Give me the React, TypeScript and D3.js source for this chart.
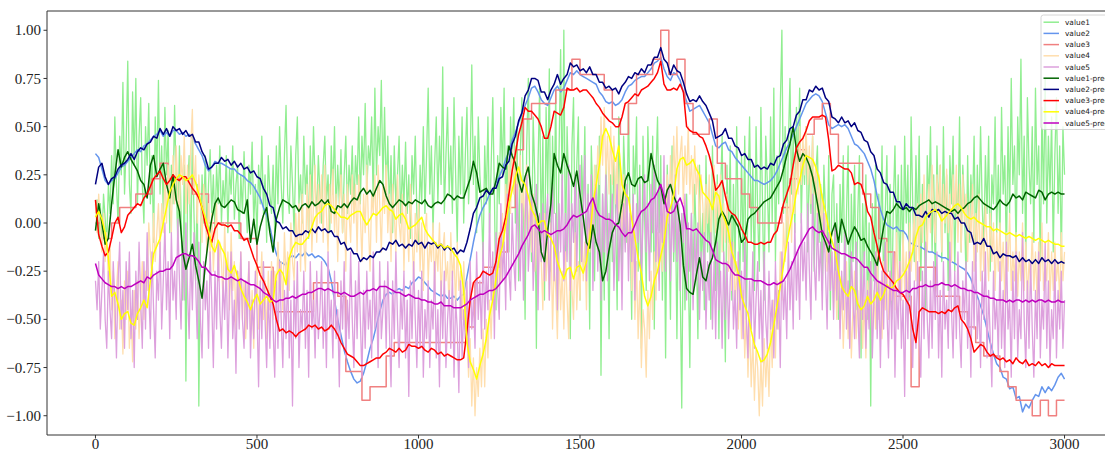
import React from "react";
import * as d3 from "d3";

// ---- data ----
const STEP_VALUE3 = 25; // x spacing of the stepped series
const MID_STEP = 10; // x spacing of the prediction series and value2
const FINE_STEP = 5; // x spacing of the noisy series

const xTicks = [0, 500, 1000, 1500, 2000, 2500, 3000];
const yTicks = [-1.0, -0.75, -0.5, -0.25, 0.0, 0.25, 0.5, 0.75, 1.0];

const value1 = [
  0.05, 0.12, -0.08, 0.1, -0.12, 0.15, 0.02, -0.1, 0.2, 0.05,
  0.35, 0.1, 0.55, 0.2, 0.0, 0.45, 0.25, 0.73, 0.15, 0.4,
  0.84, 0.2, 0.05, 0.68, 0.3, 0.75, 0.1, 0.45, 0.65, 0.2,
  0.0, 0.5, 0.3, 0.62, 0.1, 0.35, -0.1, 0.55, 0.25, 0.74,
  0.15, 0.4, 0.05, 0.6, 0.25, 0.48, -0.05, 0.3, 0.1, 0.61,
  0.2, -0.1, 0.4, 0.05, -0.4, 0.3, -0.82, 0.15, 0.35, -0.2,
  0.45, 0.05, -0.3, 0.2, -0.95, -0.15, 0.25, 0.0, 0.35, -0.1,
  0.2, 0.38, 0.05, 0.25, -0.05, 0.3, 0.1, 0.4, 0.0, 0.22,
  0.08, 0.35, -0.05, 0.28, 0.15, 0.4, 0.02, 0.2, 0.3, -0.08,
  0.25, 0.05, 0.37, 0.12, -0.05, 0.3, 0.15, 0.42, 0.0, 0.2,
  -0.08, 0.3, 0.1, 0.45, 0.05, 0.25, -0.1, 0.35, 0.15, 0.05,
  0.3, -0.05, 0.4, 0.1, 0.5, 0.2, 0.0, 0.35, 0.61, 0.15,
  0.05, 0.4, 0.2, -0.05, 0.35, 0.55, 0.1, 0.25, 0.0, 0.45,
  0.15, 0.3, -0.08, 0.4, 0.1, 0.5, 0.2, 0.05, 0.35, 0.15,
  0.0, 0.3, 0.45, 0.1, 0.25, -0.05, 0.4, 0.15, 0.5, 0.05,
  0.3, 0.1, 0.38, -0.05, 0.25, 0.45, 0.05, 0.3, 0.15, 0.4,
  0.05, 0.35, 0.2, 0.55, 0.1, 0.45, 0.25, 0.62, 0.15, 0.4,
  0.3, 0.55, 0.1, 0.7, 0.25, 0.5, 0.35, 0.74, 0.2, 0.6,
  0.15, 0.45, 0.05, 0.35, -0.05, 0.4, 0.1, 0.25, 0.45, 0.0,
  0.3, 0.1, 0.42, 0.05, 0.25, -0.08, 0.35, 0.15, 0.45, 0.05,
  -0.1, 0.3, 0.1, 0.5, 0.05, 0.35, 0.7, 0.15, 0.4, -0.05,
  0.3, 0.55, 0.1, 0.45, 0.2, 0.81, 0.05, 0.35, 0.6, 0.15,
  0.4, 0.05, 0.65, 0.25, -0.1, 0.45, 0.15, 0.55, 0.0, 0.35,
  0.6, 0.1, 0.3, 0.82, 0.2, 0.45, -0.05, 0.55, 0.25, 0.1,
  -0.2, 0.4, 0.1, 0.55, -0.05, 0.3, 0.65, 0.15, -0.45, 0.35,
  0.1, 0.6, 0.25, 0.7, 0.05, 0.4, -0.15, 0.55, 0.3, 0.65,
  0.0, 0.5, -0.3, 0.35, 0.65, 0.1, -0.5, 0.4, 0.75, 0.15,
  -0.2, 0.55, 0.25, -0.65, 0.3, 0.7, -0.1, 0.45, -0.4, 0.6,
  0.15, 0.8, -0.25, 0.45, 0.05, 0.7, -0.5, 0.35, 0.9, 0.1,
  1.0, -0.2, 0.5, 0.15, -0.6, 0.4, 0.65, -0.1, 0.3, 0.55,
  -0.4, 0.35, 0.05, 0.5, -0.25, 0.2, -0.55, 0.4, 0.1, -0.3,
  0.3, -0.1, 0.45, -0.79, 0.15, -0.4, 0.35, 0.0, -0.6, 0.25,
  -0.2, 0.4, 0.05, -0.45, 0.55, 0.1, -0.3, 0.45, 0.2, -0.1,
  0.62, 0.0, -0.5, 0.4, 0.15, 0.55, -0.25, 0.3, -0.65, 0.45,
  0.05, -0.35, 0.5, 0.2, -0.15, 0.45, -0.55, 0.25, 0.55, -0.05,
  0.35, -0.4, 0.2, -0.7, 0.3, 0.0, -0.5, 0.4, -0.2, 0.15,
  -0.6, 0.1, -0.3, -0.96, 0.05, -0.45, 0.15, -0.2, -0.75, 0.05,
  -0.35, 0.2, -0.1, -0.6, 0.3, -0.25, 0.05, -0.45, 0.35, -0.15,
  0.1, -0.5, 0.4, -0.05, -0.35, 0.25, -0.6, 0.15, 0.45, -0.2,
  -0.72, 0.3, -0.1, 0.4, -0.4, 0.2, -0.25, 0.5, 0.0, -0.3,
  0.35, -0.2, 0.45, -0.5, 0.15, 0.55, -0.1, 0.3, -0.35, 0.5,
  0.05, -0.25, 0.6, 0.1, -0.4, 0.45, 0.2, -0.15, 0.55, 0.0,
  0.7, -0.2, 0.35, 0.1, 0.6, 1.0, 0.05, 0.5, -0.1, 0.4,
  0.75, 0.15, 0.45, -0.05, 0.6, 0.25, 0.7, 0.0, 0.4, 0.2,
  0.5, -0.15, 0.35, 0.05, 0.45, -0.25, 0.25, 0.4, -0.1, 0.2,
  -0.35, 0.3, 0.05, -0.2, 0.35, -0.45, 0.15, 0.25, -0.3, 0.1,
  -0.5, 0.2, -0.1, 0.35, -0.35, 0.05, 0.4, -0.6, 0.15, -0.2,
  0.3, -0.45, 0.05, 0.35, -0.7, 0.1, -0.25, 0.25, -0.5, 0.0,
  -0.95, 0.1, -0.3, 0.3, -0.55, 0.15, -0.15, 0.4, -0.4, 0.05,
  0.35, -0.25, 0.2, -0.5, 0.1, 0.4, -0.15, 0.25, -0.35, 0.3,
  -0.25, 0.45, 0.0, 0.3, -0.4, 0.55, 0.1, -0.2, 0.35, -0.05,
  0.45, -0.3, 0.2, 0.05, -0.45, 0.35, 0.1, 0.5, -0.15, 0.25,
  -0.3, 0.4, 0.05, 0.3, -0.2, 0.5, -0.05, 0.25, -0.35, 0.35,
  0.1, 0.45, -0.25, 0.2, 0.0, 0.55, -0.15, 0.3, 0.1, -0.3,
  0.35, -0.1, 0.25, 0.05, 0.45, -0.2, 0.3, 0.0, 0.5, 0.1,
  -0.15, 0.35, 0.05, 0.45, -0.25, 0.25, 0.1, 0.55, -0.05, 0.3,
  -0.1, 0.6, 0.15, 0.35, -0.2, 0.5, 0.05, 0.75, 0.2, 0.4,
  -0.15, 0.55, 0.25, 0.85, 0.05, 0.45, -0.2, 0.65, 0.3, 0.1,
  0.5, -0.1, 0.7, 0.2, 0.4, -0.25, 0.6, 0.1, 0.75, 0.0,
  0.45, 0.15, 0.55, -0.15, 0.35, 0.65, 0.05, 0.4, -0.2, 0.5,
  0.25,
];

const value2 = [
  0.36, 0.34, 0.28, 0.22, 0.2, 0.22, 0.23, 0.26, 0.29, 0.3,
  0.32, 0.34, 0.36, 0.38, 0.37, 0.4, 0.41, 0.43, 0.45, 0.46,
  0.48, 0.45, 0.47, 0.45, 0.48, 0.48, 0.46, 0.47, 0.45, 0.46,
  0.44, 0.41, 0.38, 0.35, 0.3, 0.27, 0.29, 0.32, 0.31, 0.31,
  0.3, 0.29, 0.28, 0.28, 0.26, 0.25, 0.24, 0.22, 0.21, 0.19,
  0.16, 0.13, 0.08, 0.04, -0.02, -0.1, -0.16, -0.2, -0.21, -0.22,
  -0.18, -0.17, -0.18, -0.16, -0.17, -0.15, -0.17, -0.16, -0.18, -0.17,
  -0.18, -0.2, -0.23, -0.3, -0.4, -0.5, -0.58, -0.66, -0.72, -0.77,
  -0.81, -0.83, -0.82, -0.78, -0.72, -0.65, -0.6, -0.53, -0.46, -0.4,
  -0.37, -0.36, -0.37, -0.35, -0.34, -0.35, -0.33, -0.34, -0.31, -0.3,
  -0.28, -0.29, -0.31, -0.33, -0.35, -0.36, -0.37, -0.38, -0.37, -0.39,
  -0.39, -0.38, -0.4, -0.38, -0.37, -0.28, -0.19, -0.1, -0.02, 0.04,
  0.08, 0.11, 0.15, 0.17, 0.21, 0.24, 0.28, 0.33, 0.37, 0.43,
  0.47, 0.52, 0.57, 0.61, 0.65, 0.7, 0.71, 0.68, 0.64, 0.62,
  0.61, 0.65, 0.69, 0.71, 0.68, 0.7, 0.74, 0.78, 0.77, 0.79,
  0.77, 0.76, 0.75, 0.74, 0.73, 0.72, 0.68, 0.66, 0.63, 0.62,
  0.63, 0.61, 0.62, 0.64, 0.68, 0.71, 0.72, 0.74, 0.75, 0.76,
  0.76, 0.78, 0.8, 0.83, 0.84, 0.86, 0.8, 0.76, 0.74, 0.78,
  0.77, 0.74, 0.68, 0.63, 0.58, 0.59, 0.6, 0.61, 0.58, 0.55,
  0.52, 0.46, 0.4, 0.39, 0.41, 0.42, 0.38, 0.37, 0.34, 0.32,
  0.3, 0.28, 0.26, 0.24, 0.22, 0.22, 0.21, 0.2, 0.21, 0.22,
  0.24, 0.27, 0.31, 0.35, 0.39, 0.42, 0.46, 0.5, 0.54, 0.58,
  0.62, 0.64, 0.66, 0.67, 0.66, 0.63, 0.57, 0.51, 0.49, 0.5,
  0.51, 0.5, 0.51, 0.49, 0.45, 0.41, 0.4, 0.38, 0.36, 0.32,
  0.28, 0.22, 0.14, 0.07, 0.02, -0.01, -0.02, -0.03, -0.02, -0.04,
  -0.04, -0.06, -0.1, -0.11, -0.12, -0.12, -0.13, -0.14, -0.15, -0.15,
  -0.16, -0.17, -0.18, -0.18, -0.19, -0.2, -0.21, -0.22, -0.23, -0.24,
  -0.26, -0.29, -0.34, -0.38, -0.43, -0.48, -0.55, -0.62, -0.68, -0.73,
  -0.75, -0.8, -0.81, -0.86, -0.85, -0.91, -0.9, -0.98, -0.94, -0.96,
  -0.92, -0.89, -0.9, -0.85, -0.88, -0.85, -0.87, -0.84, -0.8, -0.78,
  -0.81,
];

const value3 = [
  0.0, -0.08, 0.0, 0.08, 0.08, 0.15, 0.15, 0.23, 0.31, 0.23,
  0.23, 0.23, 0.15, 0.15, 0.0, 0.0, 0.0, 0.0, -0.08, -0.08,
  -0.23, -0.23, -0.46, -0.46, -0.46, -0.46, -0.46, -0.31, -0.31, -0.31,
  -0.38, -0.77, -0.77, -0.92, -0.85, -0.85, -0.69, -0.62, -0.62, -0.62,
  -0.62, -0.62, -0.62, -0.62, -0.62, -0.62, -0.54, -0.31, -0.23, -0.23,
  -0.15, 0.08, 0.38, 0.54, 0.62, 0.62, 0.62, 0.69, 0.69, 0.85,
  0.77, 0.77, 0.77, 0.69, 0.54, 0.46, 0.62, 0.77, 0.77, 0.85,
  1.0, 0.77, 0.85, 0.62, 0.46, 0.46, 0.54, 0.31, 0.23, 0.23,
  0.15, 0.08, 0.0, 0.0, 0.0, 0.08, 0.23, 0.38, 0.46, 0.54,
  0.62, 0.46, 0.31, 0.31, 0.31, 0.15, 0.08, -0.08, -0.15, -0.38,
  -0.38, -0.85, -0.23, -0.23, -0.38, -0.38, -0.38, -0.46, -0.54, -0.62,
  -0.69, -0.69, -0.77, -0.85, -0.92, -0.92, -1.0, -0.92, -1.0, -0.92,
  -0.92,
];

const value4 = [
  0.1, -0.05, 0.15, 0.0, -0.15, 0.05, -0.2, -0.05, -0.3, -0.1,
  -0.45, -0.25, -0.6, -0.35, -0.2, -0.55, -0.4, -0.68, -0.3, -0.5,
  -0.25, -0.65, -0.45, -0.72, -0.35, -0.55, -0.3, -0.6, -0.4, -0.2,
  -0.5, -0.25, -0.35, 0.0, -0.15, -0.3, 0.05, -0.2, -0.05, 0.1,
  -0.15, 0.1, -0.05, 0.25, 0.0, 0.3, 0.15, -0.05, 0.35, 0.1,
  0.4, 0.15, 0.05, 0.35, 0.2, 0.45, 0.05, 0.3, 0.1, 0.4,
  0.59, 0.15, 0.35, 0.0, 0.25, 0.1, -0.1, 0.2, 0.05, -0.15,
  0.1, -0.2, 0.05, -0.25, -0.05, 0.1, -0.3, -0.1, -0.2, -0.4,
  0.0, -0.3, -0.15, -0.45, -0.05, -0.35, -0.2, -0.55, -0.25, -0.4,
  -0.15, -0.5, -0.3, -0.6, -0.4, -0.2, -0.55, -0.35, -0.65, -0.3,
  -0.2, -0.55, -0.35, -0.15, -0.5, -0.3, -0.6, -0.25, -0.45, -0.2,
  -0.5, -0.25, -0.4, -0.1, -0.35, -0.2, -0.45, -0.05, -0.3, -0.15,
  -0.35, 0.0, -0.2, -0.3, 0.05, -0.15, 0.1, -0.25, 0.15, -0.1,
  -0.25, 0.2, -0.05, 0.25, -0.15, 0.1, 0.3, -0.1, 0.2, 0.0,
  0.25, -0.1, 0.3, 0.05, -0.15, 0.2, 0.0, 0.28, -0.05, 0.15,
  -0.2, 0.1, 0.25, -0.05, 0.15, -0.25, 0.2, 0.05, -0.1, 0.25,
  0.0, 0.2, -0.15, 0.25, 0.05, -0.2, 0.15, -0.05, 0.3, 0.0,
  -0.25, 0.15, 0.05, 0.25, -0.1, 0.3, 0.1, -0.15, 0.2, 0.05,
  0.3, -0.05, 0.15, -0.2, 0.2, 0.05, -0.15, 0.25, 0.0, -0.1,
  0.15, -0.25, 0.1, 0.0, -0.2, 0.2, -0.05, -0.3, 0.05, -0.15,
  0.1, -0.25, 0.0, -0.35, -0.05, 0.05, -0.3, -0.1, -0.2, 0.0,
  -0.35, -0.1, -0.25, 0.0, -0.4, -0.15, -0.05, -0.3, -0.2, -0.45,
  -0.05, -0.3, -0.15, -0.45, -0.1, -0.35, -0.25, -0.5, -0.2, -0.4,
  -0.55, -0.8, -0.6, -0.95, -0.7, -1.0, -0.75, -0.9, -0.65, -0.85,
  -0.55, -0.85, -0.5, -0.7, -0.4, -0.6, -0.3, -0.45, -0.15, -0.35,
  -0.05, -0.3, 0.05, -0.15, 0.2, -0.05, 0.3, 0.05, 0.38, 0.15,
  0.4, 0.1, 0.25, 0.35, 0.0, 0.2, -0.1, 0.3, -0.05, 0.1,
  -0.15, 0.15, -0.25, 0.05, -0.35, 0.0, -0.2, -0.45, 0.05, -0.3,
  -0.1, -0.4, 0.0, -0.55, -0.2, -0.35, -0.6, -0.15, -0.45, -0.25,
  -0.55, -0.15, -0.4, -0.6, -0.1, -0.35, -0.5, -0.05, -0.45, -0.2,
  -0.4, 0.0, -0.3, -0.1, -0.45, 0.05, -0.15, 0.15, -0.05, 0.3,
  0.1, 0.4, 0.2, 0.55, 0.3, 0.6, 0.25, 0.45, 0.15, 0.5,
  0.2, 0.45, 0.1, 0.35, 0.05, 0.3, -0.05, 0.25, -0.1, 0.15,
  -0.15, 0.1, -0.35, -0.05, -0.5, -0.2, -0.6, -0.3, -0.75, -0.45,
  -0.55, -0.8, -0.35, -0.6, -0.25, -0.5, -0.15, -0.4, -0.05, -0.3,
  0.0, -0.25, 0.1, -0.1, 0.25, 0.0, 0.35, 0.1, 0.45, 0.2,
  0.5, 0.15, 0.35, 0.45, 0.1, 0.4, 0.2, 0.5, 0.15, 0.35,
  0.05, 0.4, 0.15, 0.3, -0.05, 0.25, 0.1, -0.1, 0.2, 0.0,
  0.25, -0.1, 0.15, 0.3, -0.05, 0.2, 0.0, 0.25, -0.15, 0.1,
  -0.1, 0.15, -0.25, 0.0, -0.35, -0.1, -0.45, -0.2, -0.55, -0.3,
  -0.6, -0.35, -0.7, -0.45, -0.8, -0.5, -0.85, -0.6, -0.92, -0.65,
  -0.75, -1.0, -0.7, -0.95, -0.6, -0.85, -0.65, -0.9, -0.5, -0.75,
  -0.4, -0.7, -0.3, -0.55, -0.15, -0.4, 0.0, -0.2, 0.1, -0.05,
  0.2, -0.1, 0.3, 0.05, 0.4, 0.15, 0.5, 0.2, 0.45, 0.25,
  0.5, 0.2, 0.4, 0.1, 0.45, 0.15, 0.3, 0.0, 0.25, -0.05,
  0.15, -0.15, 0.05, -0.25, -0.05, -0.35, -0.15, -0.45, -0.25, -0.5,
  -0.2, -0.55, -0.3, -0.65, -0.4, -0.2, -0.6, -0.35, -0.7, -0.45,
  -0.25, -0.6, -0.35, -0.55, -0.2, -0.65, -0.4, -0.7, -0.3, -0.5,
  -0.2, -0.6, -0.35, -0.55, -0.15, -0.5, -0.3, -0.6, -0.2, -0.45,
  -0.1, -0.5, -0.25, -0.4, -0.15, -0.45, -0.05, -0.35, -0.2, -0.4,
  -0.05, -0.35, -0.15, -0.45, 0.0, -0.25, -0.1, 0.05, -0.3, 0.1,
  -0.2, 0.15, -0.1, 0.25, 0.0, -0.15, 0.2, -0.05, 0.3, 0.05,
  -0.1, 0.25, 0.05, 0.3, -0.15, 0.2, 0.0, 0.28, -0.05, 0.15,
  -0.2, 0.25, 0.05, 0.3, -0.1, 0.2, -0.15, 0.25, 0.0, 0.15,
  -0.2, 0.1, -0.1, 0.2, -0.25, 0.05, -0.15, 0.15, -0.3, 0.0,
  -0.25, 0.1, -0.1, -0.3, 0.05, -0.2, 0.0, -0.35, -0.05, -0.25,
  0.0, -0.3, -0.1, -0.4, -0.05, -0.25, 0.05, -0.35, -0.15, -0.3,
  -0.05, -0.38, -0.15, -0.3, 0.0, -0.35, -0.1, -0.4, -0.2, -0.3,
  -0.05, -0.35, -0.15, -0.4, -0.1, -0.3, 0.0, -0.35, -0.2, -0.3,
  -0.05, -0.4, -0.15, -0.35, -0.1, -0.3, -0.2, -0.4, -0.05, -0.3,
  -0.15,
];

const value5 = [
  -0.3, -0.45, -0.2, -0.55, -0.35, -0.15, -0.5, -0.65, -0.25, -0.45,
  -0.6, -0.2, -0.4, -0.7, -0.3, -0.1, -0.55, -0.35, -0.65, -0.2,
  -0.45, -0.15, -0.6, -0.35, -0.75, -0.25, -0.5, -0.1, -0.4, -0.65,
  -0.2, -0.55, -0.05, -0.35, -0.6, -0.15, -0.45, -0.7, -0.25, -0.4,
  -0.1, -0.55, -0.3, 0.0, -0.45, -0.2, -0.6, -0.05, -0.4, -0.25,
  -0.5, 0.02, -0.3, -0.55, -0.1, -0.4, 0.0, -0.35, -0.6, -0.15,
  -0.45, -0.05, -0.3, -0.6, -0.1, -0.5, -0.7, -0.2, -0.45, -0.3,
  -0.65, -0.15, -0.4, -0.75, -0.25, -0.55, -0.1, -0.45, -0.65, -0.3,
  -0.5, -0.2, -0.7, -0.35, -0.15, -0.6, -0.4, -0.78, -0.25, -0.55,
  -0.15, -0.5, -0.65, -0.3, -0.55, -0.2, -0.7, -0.4, -0.6, -0.25,
  -0.45, -0.85, -0.3, -0.6, -0.2, -0.5, -0.75, -0.35, -0.65, -0.25,
  -0.55, -0.8, -0.3, -0.65, -0.2, -0.5, -0.75, -0.35, -0.6, -0.25,
  -0.7, -0.4, -0.95, -0.3, -0.6, -0.2, -0.75, -0.45, -0.55, -0.25,
  -0.65, -0.35, -0.8, -0.2, -0.55, -0.4, -0.7, -0.25, -0.6, -0.45,
  -0.2, -0.65, -0.35, -0.75, -0.15, -0.55, -0.4, -0.7, -0.25, -0.6,
  -0.45, -0.85, -0.3, -0.55, -0.2, -0.7, -0.4, -0.6, -0.15, -0.5,
  -0.75, -0.3, -0.6, -0.2, -0.5, -0.8, -0.35, -0.65, -0.25, -0.55,
  -0.4, -0.7, -0.15, -0.55, -0.35, -0.75, -0.2, -0.6, -0.45, -0.3,
  -0.65, -0.2, -0.55, -0.85, -0.3, -0.6, -0.15, -0.5, -0.75, -0.35,
  -0.55, -0.25, -0.7, -0.4, -0.9, -0.3, -0.6, -0.2, -0.5, -0.75,
  -0.35, -0.65, -0.25, -0.8, -0.45, -0.6, -0.3, -0.75, -0.4, -0.55,
  -0.2, -0.7, -0.45, -0.85, -0.3, -0.6, -0.25, -0.75, -0.5, -0.35,
  -0.65, -0.25, -0.8, -0.4, -0.55, -0.88, -0.3, -0.7, -0.45, -0.6,
  -0.3, -0.75, -0.2, -0.55, -0.4, -0.65, -0.15, -0.5, -0.3, -0.6,
  -0.1, -0.55, -0.25, -0.45, 0.05, -0.4, -0.15, -0.6, -0.05, -0.35,
  -0.5, 0.1, -0.3, -0.1, -0.45, 0.15, -0.25, -0.4, 0.05, -0.2,
  -0.35, 0.2, -0.1, -0.3, 0.1, -0.4, 0.0, 0.25, -0.25, -0.05,
  0.15, -0.35, -0.1, 0.2, -0.45, 0.05, -0.2, 0.1, -0.3, 0.0,
  0.15, -0.4, -0.05, 0.2, -0.3, 0.05, -0.45, 0.1, -0.15, 0.25,
  -0.3, 0.05, -0.2, 0.3, -0.35, 0.1, -0.1, 0.25, -0.25, 0.15,
  0.3, -0.2, 0.05, 0.35, -0.3, 0.15, -0.1, 0.25, -0.35, 0.1,
  0.2, -0.25, 0.05, -0.4, 0.15, -0.15, 0.25, -0.3, 0.05, -0.1,
  0.15, -0.35, 0.0, 0.2, -0.3, 0.05, -0.45, 0.1, -0.15, 0.2,
  -0.3, 0.05, -0.2, 0.15, -0.4, 0.1, -0.1, 0.2, -0.25, 0.0,
  0.25, -0.15, 0.1, -0.3, 0.2, -0.05, 0.3, -0.2, 0.15, -0.35,
  0.2, -0.1, 0.35, -0.25, 0.05, 0.2, -0.3, 0.1, -0.15, 0.25,
  -0.2, 0.1, -0.35, 0.05, -0.1, 0.15, -0.4, 0.0, -0.25, 0.05,
  -0.45, -0.05, -0.3, 0.0, -0.5, -0.15, -0.35, -0.05, -0.55, -0.2,
  -0.4, -0.05, -0.55, -0.2, -0.6, -0.1, -0.45, -0.25, -0.65, -0.15,
  -0.5, -0.2, -0.6, -0.3, -0.1, -0.55, -0.35, -0.65, -0.15, -0.45,
  -0.25, -0.6, -0.1, -0.5, -0.7, -0.3, -0.55, -0.15, -0.65, -0.4,
  -0.2, -0.6, -0.35, -0.72, -0.15, -0.5, -0.65, -0.25, -0.55, -0.4,
  -0.7, -0.2, -0.55, -0.35, -0.75, -0.15, -0.5, -0.3, -0.6, -0.1,
  -0.45, -0.2, -0.55, 0.0, -0.4, -0.15, -0.5, 0.05, -0.3, -0.1,
  -0.4, 0.1, -0.25, -0.5, 0.15, -0.2, -0.4, 0.05, -0.3, -0.1,
  -0.45, 0.05, -0.25, -0.55, -0.05, -0.35, -0.15, -0.5, 0.0, -0.4,
  -0.1, -0.6, -0.25, -0.45, -0.05, -0.55, -0.3, -0.65, -0.15, -0.4,
  -0.6, -0.1, -0.45, -0.7, -0.2, -0.5, -0.15, -0.65, -0.35, -0.55,
  -0.2, -0.7, -0.4, -0.15, -0.6, -0.3, -0.75, -0.25, -0.55, -0.1,
  -0.45, -0.7, -0.25, -0.6, -0.15, -0.8, -0.35, -0.55, -0.2, -0.65,
  -0.4, -0.9, -0.25, -0.6, -0.15, -0.5, -0.75, -0.3, -0.65, -0.2,
  -0.55, -0.8, -0.25, -0.6, -0.1, -0.5, -0.7, -0.3, -0.65, -0.2,
  -0.5, -0.15, -0.7, -0.35, -0.8, -0.2, -0.55, -0.4, -0.65, -0.1,
  -0.45, -0.7, -0.25, -0.6, -0.15, -0.55, -0.75, -0.3, -0.5, -0.2,
  -0.65, -0.35, -0.8, -0.2, -0.55, -0.1, -0.6, -0.4, -0.75, -0.25,
  -0.5, -0.15, -0.7, -0.35, -0.6, -0.85, -0.25, -0.55, -0.4, -0.7,
  -0.2, -0.65, -0.35, -0.75, -0.1, -0.55, -0.4, -0.8, -0.25, -0.6,
  -0.15, -0.7, -0.45, -0.6, -0.05, -0.5, -0.75, -0.3, -0.65, -0.2,
  -0.55, -0.8, -0.35, -0.6, -0.15, -0.7, -0.4, -0.55, -0.1, -0.65,
  -0.3, -0.75, -0.45, -0.6, -0.2, -0.7, -0.35, -0.55, -0.25, -0.65,
  -0.4,
];

const value1Pred = [
  -0.04, 0.1, 0.0, -0.11, -0.08, 0.1, 0.25, 0.38, 0.29, 0.34,
  0.37, 0.33, 0.3, 0.27, 0.22, 0.2, 0.13, 0.3, 0.35, 0.24,
  0.28, 0.31, 0.2, 0.13, 0.25, 0.12, 0.06, -0.15, -0.24, -0.18,
  -0.11, -0.22, -0.3, -0.39, -0.22, -0.08, 0.02, 0.1, 0.13, 0.09,
  0.08, 0.1, 0.12, 0.11, 0.07, 0.06, 0.05, 0.12, -0.1, 0.02,
  -0.11, -0.02, 0.04, 0.08, -0.05, -0.15, 0.02, 0.08, 0.12, 0.11,
  0.1, 0.08, 0.09, 0.06, 0.09, 0.1, 0.08, 0.11, 0.09, 0.1,
  0.12, 0.1, 0.12, 0.06, 0.05, 0.09, 0.08, 0.1, 0.08, 0.11,
  0.13, 0.12, 0.16, 0.18, 0.15, 0.17, 0.14, 0.18, 0.22, 0.2,
  0.14, 0.1, 0.08, 0.1, 0.12, 0.11, 0.09, 0.11, 0.1, 0.12,
  0.11, 0.1, 0.12, 0.09, 0.08, 0.1, 0.11, 0.1, 0.12, 0.15,
  0.14, 0.12, 0.14, 0.13, 0.13, 0.18, 0.23, 0.32, 0.26, 0.16,
  0.17, 0.18, 0.15, 0.15, 0.22, 0.31, 0.29, 0.28, 0.4, 0.35,
  0.31, 0.22, 0.16, 0.24, 0.29, 0.15, 0.1, 0.03, -0.15, -0.2,
  -0.04, 0.1, 0.36, 0.3, 0.26, 0.36, 0.3, 0.25, 0.19, 0.27,
  0.15, 0.03, -0.1, -0.13, -0.01, -0.1, -0.15, -0.3, -0.25, -0.14,
  -0.05, -0.01, 0.0, 0.1, 0.22, 0.26, 0.2, 0.19, 0.23, 0.24,
  0.21, 0.22, 0.36, 0.28, 0.22, 0.19, 0.1, 0.17, 0.2, 0.14,
  0.1, -0.01, -0.22, -0.34, -0.36, -0.37, -0.27, -0.18, -0.28, -0.3,
  -0.22, -0.18, -0.1, 0.02, 0.06, 0.03, -0.01, 0.04, 0.01, -0.02,
  -0.1, -0.08, 0.02, 0.04, 0.05, 0.07, 0.09, 0.11, 0.12, 0.13,
  0.16, 0.19, 0.22, 0.28, 0.35, 0.41, 0.5, 0.38, 0.32, 0.36,
  0.34, 0.3, 0.24, 0.15, 0.05, -0.06, -0.1, -0.15, -0.05, 0.0,
  -0.1, 0.02, -0.04, -0.11, -0.06, -0.02, -0.05, -0.09, -0.08, -0.12,
  -0.15, -0.18, -0.22, -0.12, -0.02, 0.06, 0.05, 0.07, 0.1, 0.08,
  0.07, 0.08, 0.06, 0.08, 0.07, 0.09, 0.1, 0.11, 0.12, 0.1,
  0.11, 0.1, 0.09, 0.08, 0.07, 0.06, 0.07, 0.05, 0.07, 0.08,
  0.1, 0.11, 0.13, 0.14, 0.12, 0.1, 0.09, 0.08, 0.07, 0.09,
  0.12, 0.1, 0.09, 0.11, 0.15, 0.13, 0.14, 0.12, 0.16, 0.15,
  0.14, 0.13, 0.17, 0.16, 0.12, 0.15, 0.16, 0.15, 0.16, 0.15,
  0.15,
];

const value2Pred = [
  0.2, 0.29, 0.31, 0.24, 0.2, 0.23, 0.24, 0.28, 0.3, 0.31,
  0.33, 0.36, 0.33, 0.37, 0.39, 0.38, 0.41, 0.42, 0.45, 0.44,
  0.49, 0.46, 0.49, 0.45, 0.5, 0.48, 0.49, 0.46, 0.48, 0.45,
  0.46, 0.42, 0.42, 0.37, 0.34, 0.28, 0.29, 0.31, 0.31, 0.34,
  0.32, 0.33, 0.3, 0.32, 0.29, 0.31, 0.28, 0.29, 0.26, 0.27,
  0.24, 0.23, 0.18, 0.15, 0.09, 0.08, 0.01, 0.0, -0.03, -0.02,
  -0.04, -0.04, -0.07, -0.06, -0.06, -0.04, -0.05, -0.03, -0.05, -0.02,
  -0.04, -0.03, -0.05, -0.04, -0.07, -0.07, -0.11, -0.1, -0.14, -0.13,
  -0.16, -0.16, -0.2, -0.18, -0.19, -0.17, -0.18, -0.15, -0.15, -0.13,
  -0.14, -0.1, -0.11, -0.09, -0.12, -0.11, -0.13, -0.11, -0.12, -0.09,
  -0.11, -0.1, -0.13, -0.1, -0.11, -0.1, -0.13, -0.11, -0.14, -0.12,
  -0.14, -0.13, -0.16, -0.14, -0.15, -0.1, -0.03, 0.05, 0.08, 0.13,
  0.14, 0.17, 0.15, 0.18, 0.18, 0.23, 0.24, 0.3, 0.32, 0.41,
  0.45, 0.53, 0.57, 0.66, 0.69, 0.75, 0.75, 0.74, 0.68, 0.68,
  0.64, 0.69, 0.72, 0.77, 0.72, 0.75, 0.77, 0.83, 0.81, 0.82,
  0.79, 0.8, 0.78, 0.81, 0.77, 0.77, 0.73, 0.73, 0.7, 0.71,
  0.69, 0.7, 0.67, 0.71, 0.73, 0.76, 0.75, 0.78, 0.77, 0.8,
  0.78, 0.82, 0.82, 0.86, 0.86, 0.91, 0.85, 0.83, 0.77, 0.82,
  0.79, 0.78, 0.73, 0.67, 0.63, 0.64, 0.63, 0.66, 0.63, 0.61,
  0.57, 0.53, 0.44, 0.45, 0.46, 0.49, 0.44, 0.44, 0.4, 0.39,
  0.35, 0.36, 0.33, 0.33, 0.29, 0.3, 0.28, 0.29, 0.28, 0.31,
  0.3, 0.34, 0.35, 0.41, 0.43, 0.49, 0.5, 0.56, 0.58, 0.64,
  0.64, 0.69, 0.68, 0.71, 0.69, 0.7, 0.65, 0.63, 0.55, 0.54,
  0.52, 0.55, 0.52, 0.53, 0.5, 0.52, 0.48, 0.47, 0.43, 0.42,
  0.37, 0.35, 0.28, 0.26, 0.21, 0.2, 0.16, 0.16, 0.11, 0.11,
  0.07, 0.1, 0.08, 0.08, 0.04, 0.04, 0.03, 0.06, 0.03, 0.07,
  0.06, 0.07, 0.05, 0.06, 0.05, 0.05, 0.02, 0.03, 0.0, 0.0,
  -0.04, -0.05, -0.11, -0.1, -0.11, -0.08, -0.12, -0.12, -0.16, -0.15,
  -0.18, -0.16, -0.17, -0.17, -0.18, -0.17, -0.2, -0.18, -0.2, -0.19,
  -0.21, -0.19, -0.21, -0.18, -0.2, -0.19, -0.21, -0.19, -0.21, -0.2,
  -0.21,
];

const value3Pred = [
  0.12, -0.06, -0.12, -0.17, -0.15, -0.08, 0.0, 0.03, -0.05, -0.02,
  0.04, 0.06, 0.08, 0.1, 0.09, 0.13, 0.15, 0.19, 0.23, 0.25,
  0.27, 0.23, 0.2, 0.22, 0.25, 0.23, 0.22, 0.24, 0.24, 0.21,
  0.18, 0.16, 0.13, 0.08, -0.01, -0.06, -0.1, -0.03, 0.0, -0.01,
  -0.01, -0.02, -0.01, -0.04, -0.04, -0.06, -0.09, -0.08, -0.13, -0.18,
  -0.22, -0.27, -0.3, -0.34, -0.38, -0.42, -0.5, -0.56, -0.55, -0.57,
  -0.56, -0.57, -0.59, -0.57, -0.56, -0.55, -0.53, -0.54, -0.53, -0.55,
  -0.54, -0.56, -0.55, -0.53, -0.55, -0.58, -0.62, -0.65, -0.68, -0.69,
  -0.7, -0.72, -0.74, -0.74, -0.73, -0.72, -0.71, -0.7, -0.7, -0.68,
  -0.67, -0.65, -0.66, -0.67, -0.65, -0.67, -0.66, -0.63, -0.64, -0.64,
  -0.65, -0.64, -0.66, -0.67, -0.65, -0.66, -0.68, -0.67, -0.69, -0.68,
  -0.69, -0.7, -0.71, -0.71, -0.7, -0.56, -0.4, -0.31, -0.29, -0.28,
  -0.25, -0.26, -0.27, -0.26, -0.2, -0.08, -0.04, 0.03, 0.15, 0.27,
  0.36, 0.46, 0.52, 0.6, 0.58, 0.58, 0.56, 0.54, 0.5, 0.44,
  0.44, 0.5, 0.58, 0.57, 0.56, 0.6, 0.7, 0.69, 0.69, 0.7,
  0.68, 0.69, 0.69, 0.67, 0.65, 0.62, 0.6, 0.57, 0.55, 0.53,
  0.52, 0.5, 0.5, 0.55, 0.62, 0.63, 0.65, 0.67, 0.66, 0.69,
  0.7, 0.71, 0.73, 0.75, 0.78, 0.84, 0.72, 0.69, 0.69, 0.7,
  0.69, 0.72, 0.68, 0.5, 0.48, 0.47, 0.47, 0.45, 0.44, 0.4,
  0.35, 0.28, 0.17, 0.19, 0.22, 0.14, 0.07, 0.05, 0.04, 0.01,
  -0.03, -0.06, -0.1, -0.1, -0.11, -0.11, -0.1, -0.11, -0.1, -0.1,
  -0.06, -0.04, 0.03, 0.1, 0.15, 0.2, 0.3, 0.39, 0.42, 0.44,
  0.48, 0.53, 0.55, 0.55, 0.55, 0.56, 0.55, 0.43, 0.27, 0.28,
  0.3, 0.29, 0.28, 0.28, 0.26, 0.2, 0.21, 0.2, 0.15, 0.06,
  0.03, -0.05, -0.12, -0.2, -0.25, -0.27, -0.29, -0.31, -0.34, -0.36,
  -0.37, -0.4, -0.43, -0.55, -0.62, -0.46, -0.44, -0.45, -0.46, -0.46,
  -0.46, -0.47, -0.46, -0.47, -0.45, -0.46, -0.44, -0.43, -0.5, -0.52,
  -0.55, -0.6, -0.67, -0.65, -0.63, -0.64, -0.67, -0.69, -0.68, -0.7,
  -0.71, -0.7, -0.72, -0.71, -0.73, -0.7, -0.72, -0.73, -0.71, -0.74,
  -0.73, -0.74, -0.72, -0.74, -0.73, -0.75, -0.73, -0.74, -0.74, -0.74,
  -0.74,
];

const value4Pred = [
  0.03, 0.06, 0.02, -0.05, -0.18, -0.38, -0.36, -0.42, -0.5, -0.47,
  -0.46, -0.52, -0.53, -0.47, -0.44, -0.4, -0.44, -0.3, -0.16, -0.12,
  -0.08, 0.0, 0.08, 0.16, 0.2, 0.23, 0.25, 0.24, 0.22, 0.23,
  0.25, 0.21, 0.15, 0.08, 0.03, -0.03, -0.12, -0.15, -0.09, -0.13,
  -0.16, -0.24, -0.26, -0.22, -0.28, -0.34, -0.38, -0.41, -0.45, -0.4,
  -0.37, -0.42, -0.4, -0.38, -0.41, -0.4, -0.27, -0.24, -0.26, -0.32,
  -0.18, -0.13, -0.1, -0.11, -0.11, -0.09, -0.07, -0.02, 0.03, 0.05,
  0.06, 0.09, 0.1, 0.09, 0.07, 0.05, 0.03, 0.03, 0.02, 0.04,
  0.05, 0.06, 0.06, 0.02, -0.01, 0.02, 0.05, 0.04, 0.06, 0.08,
  0.09, 0.07, 0.06, 0.02, 0.04, 0.05, 0.02, -0.03, -0.02, -0.01,
  0.01, 0.03, -0.03, -0.06, -0.08, -0.1, -0.12, -0.11, -0.13, -0.12,
  -0.13, -0.16, -0.18, -0.22, -0.35, -0.62, -0.72, -0.76, -0.81, -0.74,
  -0.68, -0.6, -0.48, -0.4, -0.29, -0.18, -0.12, -0.01, 0.1, 0.17,
  0.24, 0.29, 0.22, 0.2, 0.14, 0.07, 0.04, -0.01, 0.01, 0.01,
  -0.06, -0.08, -0.12, -0.2, -0.25, -0.29, -0.24, -0.23, -0.29, -0.23,
  -0.22, -0.26, -0.2, -0.08, 0.1, 0.2, 0.3, 0.45, 0.49, 0.45,
  0.38, 0.32, 0.4, 0.2, 0.15, 0.13, 0.02, -0.08, -0.18, -0.26,
  -0.38, -0.43, -0.38, -0.3, -0.25, -0.17, -0.1, 0.03, 0.08, 0.14,
  0.28, 0.33, 0.34, 0.3, 0.31, 0.33, 0.28, 0.25, 0.16, 0.14,
  0.12, 0.07, 0.16, 0.14, 0.05, 0.01, -0.05, -0.15, -0.2, -0.26,
  -0.38, -0.43, -0.47, -0.56, -0.63, -0.67, -0.72, -0.71, -0.68, -0.62,
  -0.53, -0.43, -0.33, -0.22, -0.11, -0.02, 0.06, 0.16, 0.22, 0.3,
  0.35, 0.34, 0.33, 0.29, 0.23, 0.13, 0.06, -0.03, -0.09, -0.15,
  -0.25, -0.33, -0.36, -0.38, -0.33, -0.35, -0.42, -0.45, -0.43, -0.38,
  -0.42, -0.4, -0.36, -0.4, -0.37, -0.32, -0.34, -0.33, -0.3, -0.29,
  -0.27, -0.24, -0.2, -0.15, -0.07, -0.02, -0.01, 0.03, 0.05, 0.06,
  0.07, 0.05, 0.01, 0.03, 0.05, 0.07, 0.09, 0.1, 0.08, 0.05,
  0.03, 0.02, 0.03, 0.01, 0.0, -0.01, -0.02, -0.02, -0.04, -0.03,
  -0.04, -0.05, -0.06, -0.05, -0.06, -0.07, -0.06, -0.07, -0.08, -0.07,
  -0.08, -0.09, -0.08, -0.09, -0.1, -0.09, -0.1, -0.11, -0.11, -0.12,
  -0.12,
];

const value5Pred = [
  -0.21, -0.27, -0.29, -0.31, -0.32, -0.33, -0.33, -0.34, -0.33, -0.34,
  -0.33, -0.33, -0.32, -0.31, -0.3, -0.31, -0.28, -0.29, -0.27, -0.26,
  -0.25, -0.25, -0.24, -0.24, -0.22, -0.18, -0.17, -0.16, -0.16, -0.17,
  -0.17, -0.18, -0.2, -0.23, -0.23, -0.25, -0.27, -0.27, -0.28, -0.28,
  -0.29, -0.29, -0.28, -0.29, -0.3, -0.29, -0.3, -0.31, -0.32, -0.32,
  -0.33, -0.34, -0.36, -0.37, -0.38, -0.4, -0.41, -0.4, -0.4, -0.39,
  -0.39, -0.38, -0.39, -0.38, -0.37, -0.37, -0.36, -0.36, -0.35, -0.34,
  -0.34, -0.35, -0.34, -0.35, -0.36, -0.36, -0.37, -0.36, -0.37, -0.38,
  -0.38, -0.37, -0.36, -0.37, -0.35, -0.35, -0.34, -0.35, -0.33, -0.33,
  -0.33, -0.34, -0.35, -0.36, -0.36, -0.37, -0.38, -0.37, -0.38, -0.39,
  -0.39, -0.4, -0.4, -0.41, -0.41, -0.42, -0.42, -0.41, -0.43, -0.43,
  -0.43, -0.44, -0.44, -0.44, -0.43, -0.42, -0.4, -0.39, -0.38, -0.37,
  -0.37, -0.36, -0.35, -0.35, -0.34, -0.32, -0.3, -0.28, -0.25, -0.22,
  -0.19, -0.16, -0.12, -0.09, -0.06, -0.02, -0.01, -0.03, -0.05, -0.04,
  -0.05, -0.06, -0.05, -0.04, -0.04, -0.03, -0.01, 0.02, 0.04, 0.03,
  0.04, 0.05, 0.06, 0.1, 0.13, 0.07, 0.04, 0.03, 0.02, 0.02,
  0.01, -0.01, -0.02, -0.05, -0.07, -0.05, -0.05, -0.01, 0.03, 0.06,
  0.07, 0.09, 0.12, 0.13, 0.16, 0.2, 0.14, 0.06, 0.05, 0.06,
  0.1, 0.13, 0.08, -0.03, -0.03, -0.04, -0.03, -0.05, -0.07, -0.09,
  -0.1, -0.14, -0.19, -0.2, -0.21, -0.21, -0.22, -0.25, -0.27, -0.27,
  -0.28, -0.29, -0.29, -0.29, -0.3, -0.3, -0.3, -0.31, -0.32, -0.32,
  -0.31, -0.32, -0.31, -0.3, -0.27, -0.24, -0.2, -0.16, -0.12, -0.09,
  -0.06, -0.03, -0.02, -0.04, -0.05, -0.04, -0.07, -0.1, -0.13, -0.14,
  -0.15, -0.16, -0.16, -0.17, -0.18, -0.18, -0.19, -0.21, -0.23, -0.23,
  -0.26, -0.28, -0.3, -0.31, -0.32, -0.33, -0.34, -0.35, -0.35, -0.36,
  -0.36, -0.35, -0.36, -0.34, -0.34, -0.33, -0.33, -0.32, -0.33, -0.33,
  -0.32, -0.32, -0.31, -0.32, -0.32, -0.33, -0.32, -0.33, -0.34, -0.34,
  -0.35, -0.35, -0.36, -0.36, -0.37, -0.38, -0.38, -0.39, -0.39, -0.4,
  -0.4, -0.4, -0.41, -0.4, -0.41, -0.4, -0.4, -0.41, -0.4, -0.41,
  -0.4, -0.41, -0.4, -0.4, -0.41, -0.4, -0.41, -0.41, -0.4, -0.41,
  -0.41,
];

const seriesNames = [
  "value1", "value2", "value3", "value4", "value5",
  "value1-pred", "value2-pred", "value3-pred", "value4-pred", "value5-pred",
];
const seriesColors = [
  "#90ee90", "#6495ed", "#f08080", "#ffdead", "#dda0dd",
  "#006400", "#000080", "#ff0000", "#ffff00", "#bf00bf",
];
const seriesValues = [
  value1, value2, value3, value4, value5,
  value1Pred, value2Pred, value3Pred, value4Pred, value5Pred,
];
const seriesStep = [
  FINE_STEP, MID_STEP, STEP_VALUE3, FINE_STEP, FINE_STEP,
  MID_STEP, MID_STEP, MID_STEP, MID_STEP, MID_STEP,
];

// ---- layout ----
const W = 1105;
const H = 452;
const left = 47;
const top = 11;
const bottom = 435;
const right = 1113;

export default function App() {
  const x = d3.scaleLinear().domain([-150, 3150]).range([left, right]);
  const y = d3.scaleLinear().domain([-1.1, 1.1]).range([bottom, top]);

  const paths = seriesValues.map((vals, si) => {
    const step = seriesStep[si];
    const gen = d3
      .line<number>()
      .x((_, i) => x(i * step))
      .y((v) => y(v));
    if (si === 2) gen.curve(d3.curveStepAfter);
    return gen(vals) || "";
  });

  const fmtY = (v: number) => {
    const s = Math.abs(v).toFixed(2);
    return v < 0 ? "\u2212" + s : s;
  };

  const legendX = 1041;
  const legendY = 15;
  const rowH = 11.2;

  return (
    <div style={{ position: "absolute", left: 0, top: 0 }}>
      <svg width={W} height={H} style={{ display: "block", background: "#fff" }}>
        <defs>
          <clipPath id="plotclip">
            <rect x={left} y={top} width={right - left} height={bottom - top} />
          </clipPath>
        </defs>
        <g clipPath="url(#plotclip)">
          {paths.map((d, i) => (
            <path
              key={seriesNames[i]}
              d={d}
              fill="none"
              stroke={seriesColors[i]}
              strokeWidth={i === 0 || i === 3 || i === 4 ? 1.3 : 1.5}
              strokeLinejoin="round"
            />
          ))}
        </g>
        {/* spines */}
        <line x1={left} x2={W} y1={top} y2={top} stroke="#333" strokeWidth={1} />
        <line x1={left} x2={W} y1={bottom} y2={bottom} stroke="#333" strokeWidth={1} />
        <line x1={left} x2={left} y1={top} y2={bottom} stroke="#333" strokeWidth={1} />
        {/* y ticks */}
        {yTicks.map((t) => (
          <g key={"y" + t}>
            <line x1={left - 3.5} x2={left} y1={y(t)} y2={y(t)} stroke="#333" strokeWidth={1} />
            <text
              x={left - 6}
              y={y(t)}
              dy="0.34em"
              textAnchor="end"
              fontFamily="'Liberation Serif', 'Times New Roman', serif"
              fontSize={15}
              fill="#222"
            >
              {fmtY(t)}
            </text>
          </g>
        ))}
        {/* x ticks */}
        {xTicks.map((t) => (
          <g key={"x" + t}>
            <line x1={x(t)} x2={x(t)} y1={bottom} y2={bottom + 3.5} stroke="#333" strokeWidth={1} />
            <text
              x={x(t)}
              y={449}
              textAnchor="middle"
              fontFamily="'Liberation Serif', 'Times New Roman', serif"
              fontSize={15}
              fill="#222"
            >
              {t}
            </text>
          </g>
        ))}
        {/* legend */}
        <rect
          x={legendX}
          y={legendY}
          width={100}
          height={114.5}
          rx={2.5}
          fill="#fff"
          fillOpacity={0.8}
          stroke="#cccccc"
          strokeWidth={0.8}
        />
        {seriesNames.map((name, i) => {
          const cy = legendY + 7.2 + i * rowH;
          return (
            <g key={"lg" + name}>
              <line
                x1={legendX + 2.5}
                x2={legendX + 18}
                y1={cy}
                y2={cy}
                stroke={seriesColors[i]}
                strokeWidth={1.5}
              />
              <text
                x={legendX + 24}
                y={cy}
                dy="0.35em"
                fontFamily="'DejaVu Sans', sans-serif"
                fontSize={7.4}
                fill="#222"
              >
                {name}
              </text>
            </g>
          );
        })}
      </svg>
    </div>
  );
}
